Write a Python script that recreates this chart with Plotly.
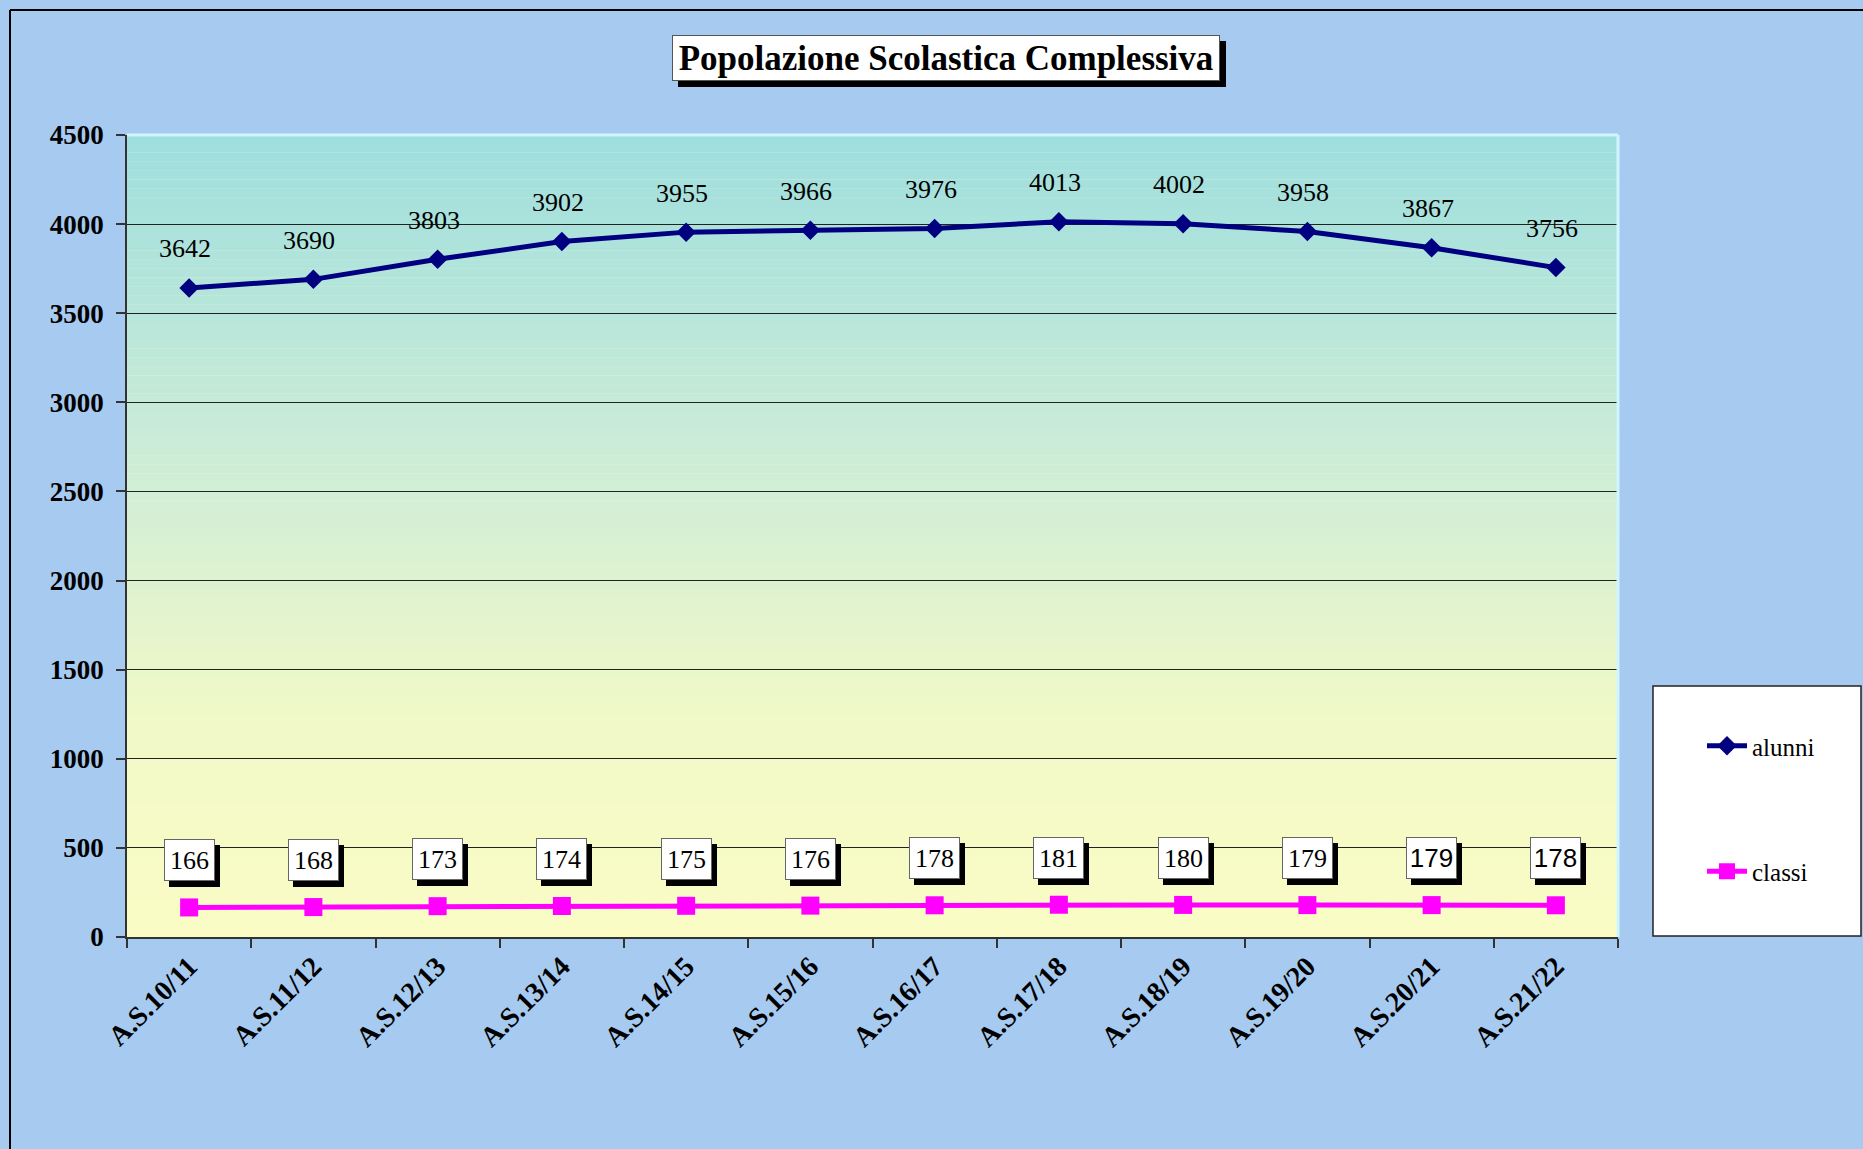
import plotly.graph_objects as go

categories = ["A.S.10/11", "A.S.11/12", "A.S.12/13", "A.S.13/14", "A.S.14/15", "A.S.15/16",
              "A.S.16/17", "A.S.17/18", "A.S.18/19", "A.S.19/20", "A.S.20/21", "A.S.21/22"]
alunni = [3642, 3690, 3803, 3902, 3955, 3966, 3976, 4013, 4002, 3958, 3867, 3756]
classi = [166, 168, 173, 174, 175, 176, 178, 181, 180, 179, 179, 178]
y_ticks = [0, 500, 1000, 1500, 2000, 2500, 3000, 3500, 4000, 4500]
title_text = "Popolazione Scolastica Complessiva"

W, H = 1863, 1149
L, R, T, B = 127, 1618, 135, 937


def px(x):
    return (x - L) / (R - L)


def py(y):
    return (B - y) / (B - T)


SERIF = "Liberation Serif"
SANS = "Liberation Sans"

fig = go.Figure()
fig.add_trace(go.Scatter(
    x=categories, y=alunni, name="alunni", mode="lines+markers", legendgroup="a",
    line=dict(color="#000080", width=5),
    marker=dict(symbol="diamond", size=15, color="#000080"),
))
fig.add_trace(go.Scatter(
    x=categories, y=classi, name="classi", mode="lines+markers", legendgroup="c",
    line=dict(color="#FF00FF", width=5),
    marker=dict(symbol="square", size=18, color="#FF00FF"),
))

shapes = []
# gradient plot background
stops = [(0, (250, 252, 196)), (1200, (241, 249, 200)), (2500, (210, 238, 214)), (4500, (158, 222, 222))]


def col_at(v):
    for (v0, c0), (v1, c1) in zip(stops[:-1], stops[1:]):
        if v0 <= v <= v1:
            t = (v - v0) / (v1 - v0)
            return "rgb(%d,%d,%d)" % tuple(round(a + (b - a) * t) for a, b in zip(c0, c1))
    return "rgb(%d,%d,%d)" % stops[-1][1]


N = 90
step = 4500 / N
for i in range(N):
    y0 = i * step
    shapes.append(dict(type="rect", xref="paper", yref="y", x0=0, x1=1, y0=y0, y1=y0 + step + 1,
                       fillcolor=col_at(y0 + step / 2), line=dict(width=0), layer="between"))

# plot top/right light edges
shapes.append(dict(type="line", xref="paper", yref="paper", x0=0, x1=1, y0=1, y1=1,
                   line=dict(color="#CFF6FF", width=3), layer="above"))
shapes.append(dict(type="line", xref="paper", yref="paper", x0=1, x1=1, y0=0, y1=1,
                   line=dict(color="#CFF6FF", width=3), layer="above"))
# outer chart border (left and top)
shapes.append(dict(type="line", xref="paper", yref="paper", x0=px(10), x1=px(10), y0=py(10), y1=py(H + 5),
                   line=dict(color="black", width=2)))
shapes.append(dict(type="line", xref="paper", yref="paper", x0=px(10), x1=px(W + 5), y0=py(10), y1=py(10),
                   line=dict(color="black", width=2)))
# legend box
shapes.append(dict(type="rect", xref="paper", yref="paper", x0=px(1653), x1=px(1861), y0=py(936), y1=py(686),
                   fillcolor="white", line=dict(color="#222", width=1.5)))

annotations = []
# title with drop shadow
tx, ty = px(946), py(58)
annotations.append(dict(text=" ", xref="paper", yref="paper", x=tx, y=ty, showarrow=False,
                        xanchor="center", yanchor="middle", xshift=6, yshift=-6, width=546, height=44,
                        font=dict(family=SERIF, size=35, color="black"),
                        bgcolor="black", bordercolor="black", borderwidth=1, borderpad=0))
annotations.append(dict(text="<b>%s</b>" % title_text, xref="paper", yref="paper", x=tx, y=ty, showarrow=False,
                        xanchor="center", yanchor="middle", width=546, height=44,
                        font=dict(family=SERIF, size=35, color="black"),
                        bgcolor="white", bordercolor="#555", borderwidth=1, borderpad=0))

# alunni data labels
for c, v in zip(categories, alunni):
    annotations.append(dict(text=str(v), x=c, y=v, xref="x", yref="y", showarrow=False, yshift=39, xshift=-4,
                            font=dict(family=SERIF, size=26, color="black")))

# classi data labels with shadow boxes
label_fonts = [SERIF] * 10 + [SANS] * 2
for c, v, f in zip(categories, classi, label_fonts):
    annotations.append(dict(text=" ", x=c, y=v, xref="x", yref="y", showarrow=False, yshift=41, xshift=5,
                            width=49, height=40, font=dict(family=f, size=26, color="black"),
                            bgcolor="black", bordercolor="black", borderwidth=1, borderpad=0))
    annotations.append(dict(text=str(v), x=c, y=v, xref="x", yref="y", showarrow=False, yshift=47,
                            width=49, height=40, font=dict(family=f, size=26, color="black"),
                            bgcolor="white", bordercolor="#666", borderwidth=1, borderpad=0))

fig.update_layout(
    width=W, height=H,
    margin=dict(l=L, r=W - R, t=T, b=H - B, pad=0),
    paper_bgcolor="#A6CAF0",
    plot_bgcolor="#FAFCC4",
    showlegend=True,
    legend=dict(x=px(1702), y=py(723), xanchor="left", yanchor="top",
                bgcolor="rgba(0,0,0,0)", borderwidth=0,
                font=dict(family=SERIF, size=25, color="black"),
                tracegroupgap=90, itemwidth=40),
    shapes=shapes,
    annotations=annotations,
    xaxis=dict(
        range=[-0.5, len(categories) - 0.5], tickangle=-45, tickson="boundaries",
        ticks="outside", ticklen=9, tickcolor="#333", tickwidth=1.5,
        showline=True, linecolor="#333", linewidth=1.5, showgrid=False, zeroline=False,
        tickfont=dict(family=SERIF, size=28, color="black", weight="bold"),
    ),
    yaxis=dict(
        range=[0, 4500], tickvals=y_ticks, ticktext=[str(t) for t in y_ticks],
        ticks="outside", ticklen=9, tickcolor="#333", tickwidth=1.5,
        showline=True, linecolor="#333", linewidth=1.5, ticklabelstandoff=7,
        showgrid=True, gridcolor="#222", gridwidth=1, zeroline=False,
        tickfont=dict(family=SERIF, size=27, color="black", weight="bold"),
    ),
)

fig.write_html("out.html", config={"displayModeBar": False},
               post_script="document.body.style.margin='0';document.body.style.overflow='hidden';")
